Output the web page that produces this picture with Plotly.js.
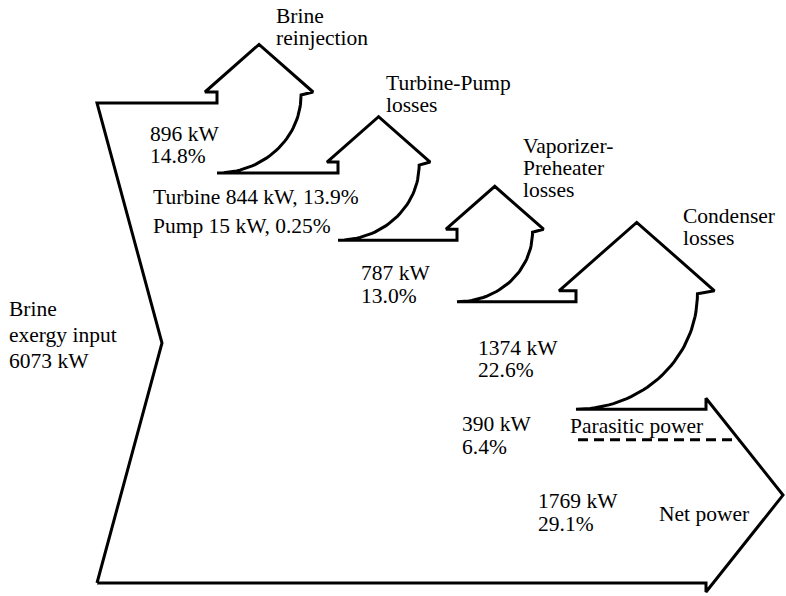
<!DOCTYPE html>
<html>
<head>
<meta charset="utf-8">
<script src="https://cdn.plot.ly/plotly-3.0.1.min.js"></script>
<style>html,body{margin:0;padding:0;background:#fff;}#chart{width:786px;height:596px;}</style>
</head>
<body>
<div id="chart"></div>
<script>
// ---- data ----
const inputName = 'Brine exergy input';
const inputKW = 6073;
const lossNames = ['Brine reinjection', 'Turbine-Pump losses', 'Vaporizer-Preheater losses', 'Condenser losses'];
const lossKW = [896, 859, 787, 1374];          // turbine-pump = 844 + 15
const lossPct = [14.8, 14.15, 13.0, 22.6];
const turbineKW = 844, turbinePct = 13.9;
const pumpKW = 15, pumpPct = 0.25;
const outNames = ['Parasitic power', 'Net power'];
const outKW = [390, 1769];
const outPct = [6.4, 29.1];

// ---- layout constants (pixels in a 786x596 frame) ----
const K = 0.0782;            // px per kW
const TOP0 = 103;
const XL = 97, XCHEV = 162;
const STAGE_X = [217, 338, 457, 576];
const XF = 706, XTIP = 783;
const NOTCH = 11;

const xs = [], ys = [];
function P(x, y) { xs.push(x); ys.push(y); }

const yBottom = 583;
P(XL, yBottom);
P(XCHEV, (TOP0 + yBottom) / 2);
P(XL, TOP0);
let yTop = TOP0;
lossKW.forEach((v, i) => {
  const xn = STAGE_X[i];
  const h = v * K;
  const w = h + 14;
  const e = Math.max(10, Math.round(w * 0.14));
  const wingY = yTop - NOTCH;
  const headH = (w / 2 + e) * 0.88;
  P(xn, yTop);
  P(xn, wingY);
  P(xn - e, wingY);
  P(xn + w / 2, wingY - headH);
  P(xn + w + e, wingY);
  P(xn + w, wingY + 3);
  const cy = wingY + 3, next = yTop + h, ry = next - cy;
  for (let j = 0; j <= 40; j++) {
    const t = (Math.PI / 2) * j / 40;
    P(xn + w * Math.cos(t), cy + ry * Math.sin(t));
  }
  yTop = next;
});
P(XF, yTop);
P(XF, yTop - NOTCH);
const tipY = ((yTop - NOTCH) + (yBottom + 9)) / 2;
P(XTIP, tipY);
P(XF, yBottom + 9);
P(XF, yBottom);
P(XL, yBottom);

const dashY = yTop + outKW[0] * K;
const dashX = XF + (dashY - (yTop - NOTCH)) / (tipY - (yTop - NOTCH)) * (XTIP - XF);

const traces = [
  {x: xs, y: ys, mode: 'lines', line: {color: '#000', width: 3}, hoverinfo: 'skip'},
  {x: [STAGE_X[3] + 2, dashX], y: [dashY, dashY], mode: 'lines',
   line: {color: '#000', width: 3, dash: '10px,6px'}, hoverinfo: 'skip'}
];

const F = {family: 'Liberation Serif', size: 21.5, color: '#000'};
const ann = [];
function T(text, x, y) {
  ann.push({text: text, x: x, y: y, xref: 'x', yref: 'y', xanchor: 'left', yanchor: 'middle',
            showarrow: false, font: F});
}
function lines(arr, x, y0, dy) { arr.forEach((s, i) => T(s, x, y0 + i * dy)); }
const kw = v => v + ' kW';
const pc = p => p.toFixed(1) + '%';

lines(['Brine', 'exergy input', kw(inputKW)], 7, 309, 26);
lines(['Brine', 'reinjection'], 274, 16, 22);
lines([kw(lossKW[0]), pc(lossPct[0])], 148, 134, 22);
lines(['Turbine-Pump', 'losses'], 384, 83, 22);
T('Turbine ' + turbineKW + ' kW, ' + pc(turbinePct), 151, 197);
T('Pump ' + pumpKW + ' kW, ' + pumpPct + '%', 151, 226);
lines(['Vaporizer-', 'Preheater', 'losses'], 521, 146, 22);
lines([kw(lossKW[2]), pc(lossPct[2])], 359, 273, 23);
lines(['Condenser', 'losses'], 681, 216, 22);
lines([kw(lossKW[3]), pc(lossPct[3])], 476, 348, 22);
lines([kw(outKW[0]), pc(outPct[0])], 460, 424, 23);
T(outNames[0], 568, 426);
lines([kw(outKW[1]), pc(outPct[1])], 536, 501, 23);
T(outNames[1], 657, 514);

const layout = {
  width: 786, height: 596,
  margin: {l: 0, r: 0, t: 0, b: 0},
  paper_bgcolor: '#fff', plot_bgcolor: '#fff',
  showlegend: false,
  font: {family: 'Liberation Serif'},
  xaxis: {range: [0, 786], visible: false, fixedrange: true},
  yaxis: {range: [596, 0], visible: false, fixedrange: true},
  annotations: ann
};
Plotly.newPlot('chart', traces, layout, {displayModeBar: false, staticPlot: true});
</script>
</body>
</html>
